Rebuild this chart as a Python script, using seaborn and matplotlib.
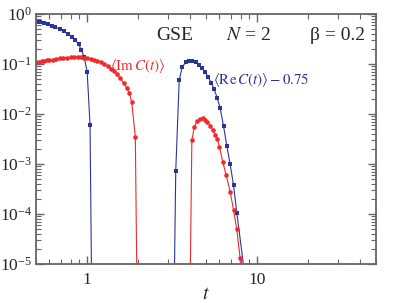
import matplotlib
matplotlib.use("Agg")
import matplotlib.pyplot as plt
import seaborn as sns
from matplotlib.ticker import LogLocator, NullFormatter, FixedLocator, FixedFormatter

# data (tiny values = points that fall below the axis)
blue1_t = [0.50, 0.53, 0.56, 0.59, 0.62, 0.65, 0.69, 0.73, 0.77, 0.81, 0.85, 0.89, 0.925, 0.96, 1.0, 1.04, 1.08]
blue1_y = [0.70, 0.68, 0.65, 0.62, 0.58, 0.55, 0.50, 0.45, 0.40, 0.35, 0.30, 0.25, 0.19, 0.138, 0.07, 0.006, 1e-8]

blue2_t = [3.18, 3.32, 3.48, 3.63, 3.80, 3.97, 4.15, 4.34, 4.53, 4.73, 4.94, 5.15, 5.37, 5.59, 5.82, 6.06, 6.34, 6.63, 6.94, 7.26, 7.59, 8.6]
blue2_y = [1e-8, 7.4e-4, 0.048, 0.088, 0.108, 0.117, 0.116, 0.108, 0.096, 0.083, 0.069, 0.055, 0.042, 0.031, 0.021, 0.013, 0.0058, 0.0023, 0.00098, 0.00038, 0.000106, 3.8e-6]

red1_t = [0.50, 0.52, 0.54, 0.56, 0.58, 0.60, 0.63, 0.66, 0.69, 0.72, 0.76, 0.80, 0.84, 0.88, 0.92, 0.96, 1.00, 1.05,
          1.10, 1.15, 1.20, 1.26, 1.32, 1.38, 1.44, 1.50, 1.57, 1.64, 1.71, 1.77, 1.83, 1.92, 2.0]
red1_y = [0.110, 0.112, 0.114, 0.116, 0.118, 0.120, 0.123, 0.126, 0.129, 0.132, 0.134, 0.136, 0.137, 0.137, 0.136, 0.134,
          0.131, 0.127, 0.122, 0.116, 0.108, 0.099, 0.090, 0.081, 0.072, 0.062, 0.052, 0.042, 0.033, 0.026, 0.017, 0.0035, 1e-8]

red2_t = [3.95, 4.13, 4.27, 4.42, 4.62, 4.77, 4.94, 5.10, 5.29, 5.49, 5.66, 5.83, 6.0, 6.28, 6.57, 6.94, 7.26, 7.59, 7.94, 8.4]
red2_y = [1e-8, 0.0030, 0.0055, 0.0071, 0.0079, 0.0082, 0.0077, 0.0070, 0.0058, 0.0048, 0.0038, 0.0031, 0.0022,
          0.0011, 6.0e-4, 2.8e-4, 1.2e-4, 4.9e-5, 1.3e-5, 1e-7]

blue = "#2b3596"
red = "#ee2a2a"

sns.set_theme(style="ticks")
plt.rcParams["font.family"] = ["Liberation Serif", "DejaVu Serif"]
plt.rcParams["mathtext.fontset"] = "stix"

fig = plt.figure(figsize=(4.15, 3.03), dpi=100)
ax = fig.add_axes([0.0867, 0.1287, 0.8193, 0.8251])

for tt, yy in [(blue1_t, blue1_y), (blue2_t, blue2_y)]:
    sns.lineplot(x=tt, y=yy, ax=ax, color=blue, marker="s", markersize=3.3,
                 markeredgewidth=0, linewidth=0.8, sort=False, estimator=None)
for tt, yy in [(red1_t, red1_y), (red2_t, red2_y)]:
    sns.lineplot(x=tt, y=yy, ax=ax, color=red, marker="o", markersize=3.3,
                 markeredgewidth=0, linewidth=0.8, sort=False, estimator=None)

ax.set_xscale("log")
ax.set_yscale("log")
ax.set_xlim(0.5, 50)
ax.set_ylim(1e-5, 1)

ax.xaxis.set_major_locator(FixedLocator([1, 10]))
ax.xaxis.set_major_formatter(FixedFormatter(["1", "10"]))
ax.xaxis.set_minor_locator(LogLocator(base=10, subs=range(2, 10), numticks=20))
ax.xaxis.set_minor_formatter(NullFormatter())
ax.yaxis.set_major_locator(LogLocator(base=10, numticks=10))
ax.yaxis.set_minor_locator(LogLocator(base=10, subs=range(2, 10), numticks=20))
ax.yaxis.set_minor_formatter(NullFormatter())

ax.tick_params(which="both", direction="in", top=True, right=True, color="#666666", labelsize=12.5)
ax.tick_params(axis="y", pad=3)
ax.tick_params(axis="x", pad=6)
ax.tick_params(which="major", length=6, width=1)
ax.tick_params(which="minor", length=3.5, width=0.8)
for s in ax.spines.values():
    s.set_color("#666666")
    s.set_linewidth(1.3)

ax.set_xlabel("$t$", fontsize=14, labelpad=-2)
ax.set_ylabel("")

ax.text(0.409, 0.915, "GSE", transform=ax.transAxes, fontsize=14, ha="center", va="center")
ax.text(0.624, 0.915, r"$N$ = 2", transform=ax.transAxes, fontsize=14, ha="center", va="center")
ax.text(0.888, 0.915, "β = 0.2", transform=ax.transAxes, fontsize=14, ha="center", va="center")
ax.text(0.218, 0.79, r"$\langle\mathrm{Im}\,C(t)\rangle$", transform=ax.transAxes, fontsize=10.8,
        color=red, ha="left", va="center")
ax.text(0.52, 0.735, r"$\langle\mathrm{Re}\,C(t)\rangle - 0.75$", transform=ax.transAxes, fontsize=10.8,
        color=blue, ha="left", va="center")

fig.savefig("out.png", dpi=100)
